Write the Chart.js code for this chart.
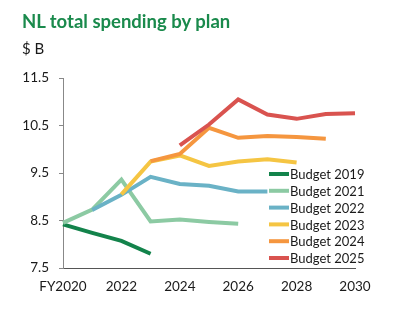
<!DOCTYPE html>
<html>
<head>
<meta charset="utf-8">
<script src="https://cdn.jsdelivr.net/npm/chart.js@4"></script>
<style>
    body { margin: 0; background: #fff; }
    .wrap { position: relative; width: 405px; height: 330px; font-family: Lato, sans-serif; }
    .title { position: absolute; left: 22px; top: 10px; font-size: 18.5px; font-weight: bold; color: #1a8a4c; }
    .unit { position: absolute; left: 22px; top: 39px; font-size: 15px; color: #1a1a1a; }
    canvas { position: absolute; left: 0; top: 0; }
</style>
</head>
<body>
<div class="wrap">
    <canvas id="chart" width="405" height="330"></canvas>
    <div class="title">NL total spending by plan</div>
    <div class="unit">$ B</div>
</div>
<script>
// Chart data
const years = ['2020', '2021', '2022', '2023', '2024', '2025', '2026', '2027', '2028', '2029', '2030'];
const budget2019 = [8.42, 8.24, 8.07, 7.80, null, null, null, null, null, null, null];
const budget2021 = [8.45, 8.73, 9.36, 8.48, 8.52, 8.47, 8.43, null, null, null, null];
const budget2022 = [null, 8.72, 9.04, 9.42, 9.27, 9.23, 9.11, 9.11, null, null, null];
const budget2023 = [null, null, 9.05, 9.74, 9.87, 9.65, 9.74, 9.79, 9.72, null, null];
const budget2024 = [null, null, null, 9.75, 9.90, 10.45, 10.24, 10.28, 10.26, 10.22, null];
const budget2025 = [null, null, null, null, 10.08, 10.52, 11.05, 10.73, 10.64, 10.74, 10.76];
const yTicks = [7.5, 8.5, 9.5, 10.5, 11.5];

const series = [
    { label: 'Budget 2019', data: budget2019, color: '#13834b' },
    { label: 'Budget 2021', data: budget2021, color: '#8ccaa3' },
    { label: 'Budget 2022', data: budget2022, color: '#6ab2c6' },
    { label: 'Budget 2023', data: budget2023, color: '#f5c543' },
    { label: 'Budget 2024', data: budget2024, color: '#f5963f' },
    { label: 'Budget 2025', data: budget2025, color: '#d9534f' }
];

// legend drawn inside the plot, like the original
const sideLegend = {
    id: 'sideLegend',
    afterDraw(chart) {
        const ctx = chart.ctx;
        ctx.save();
        ctx.font = '13px Lato, sans-serif';
        ctx.textBaseline = 'middle';
        chart.data.datasets.forEach((ds, i) => {
            const y = 174 + i * 16.8;
            ctx.strokeStyle = ds.borderColor;
            ctx.lineWidth = 4;
            ctx.beginPath();
            ctx.moveTo(269, y);
            ctx.lineTo(289, y);
            ctx.stroke();
            ctx.fillStyle = '#1a1a1a';
            ctx.fillText(ds.label, 290, y + 1);
        });
        ctx.restore();
    }
};

new Chart(document.getElementById('chart'), {
    type: 'line',
    data: {
        labels: years,
        datasets: series.map((s, i) => ({
            label: s.label,
            data: s.data,
            borderColor: s.color,
            backgroundColor: s.color,
            borderWidth: 4,
            pointRadius: 0,
            tension: 0,
            spanGaps: false,
            order: series.length - i
        }))
    },
    options: {
        responsive: false,
        animation: false,
        layout: { padding: { top: 78, right: 50, left: 0, bottom: 0 } },
        plugins: {
            legend: { display: false },
            tooltip: { enabled: false }
        },
        scales: {
            x: {
                offset: false,
                grid: { display: false, drawTicks: false },
                border: { color: '#555', width: 1 },
                ticks: {
                    autoSkip: false,
                    maxRotation: 0,
                    padding: 11,
                    color: '#1a1a1a',
                    font: { family: 'Lato', size: 13.5 },
                    callback: function (v, i) {
                        if (i % 2) return '';
                        return i === 0 ? 'FY' + years[i] : years[i];
                    }
                },
                afterFit: s => { s.height = 62; }
            },
            y: {
                min: yTicks[0],
                max: yTicks[yTicks.length - 1],
                afterBuildTicks: s => { s.ticks = yTicks.map(v => ({ value: v })); },
                grid: { drawOnChartArea: false, drawTicks: true, tickLength: 4, color: '#888' },
                border: { color: '#888', width: 1 },
                ticks: {
                    padding: 10,
                    color: '#1a1a1a',
                    font: { family: 'Lato', size: 13.5 },
                    callback: v => v.toFixed(1)
                },
                afterFit: s => { s.width = 63; }
            }
        }
    },
    plugins: [sideLegend]
});
</script>
</body>
</html>
